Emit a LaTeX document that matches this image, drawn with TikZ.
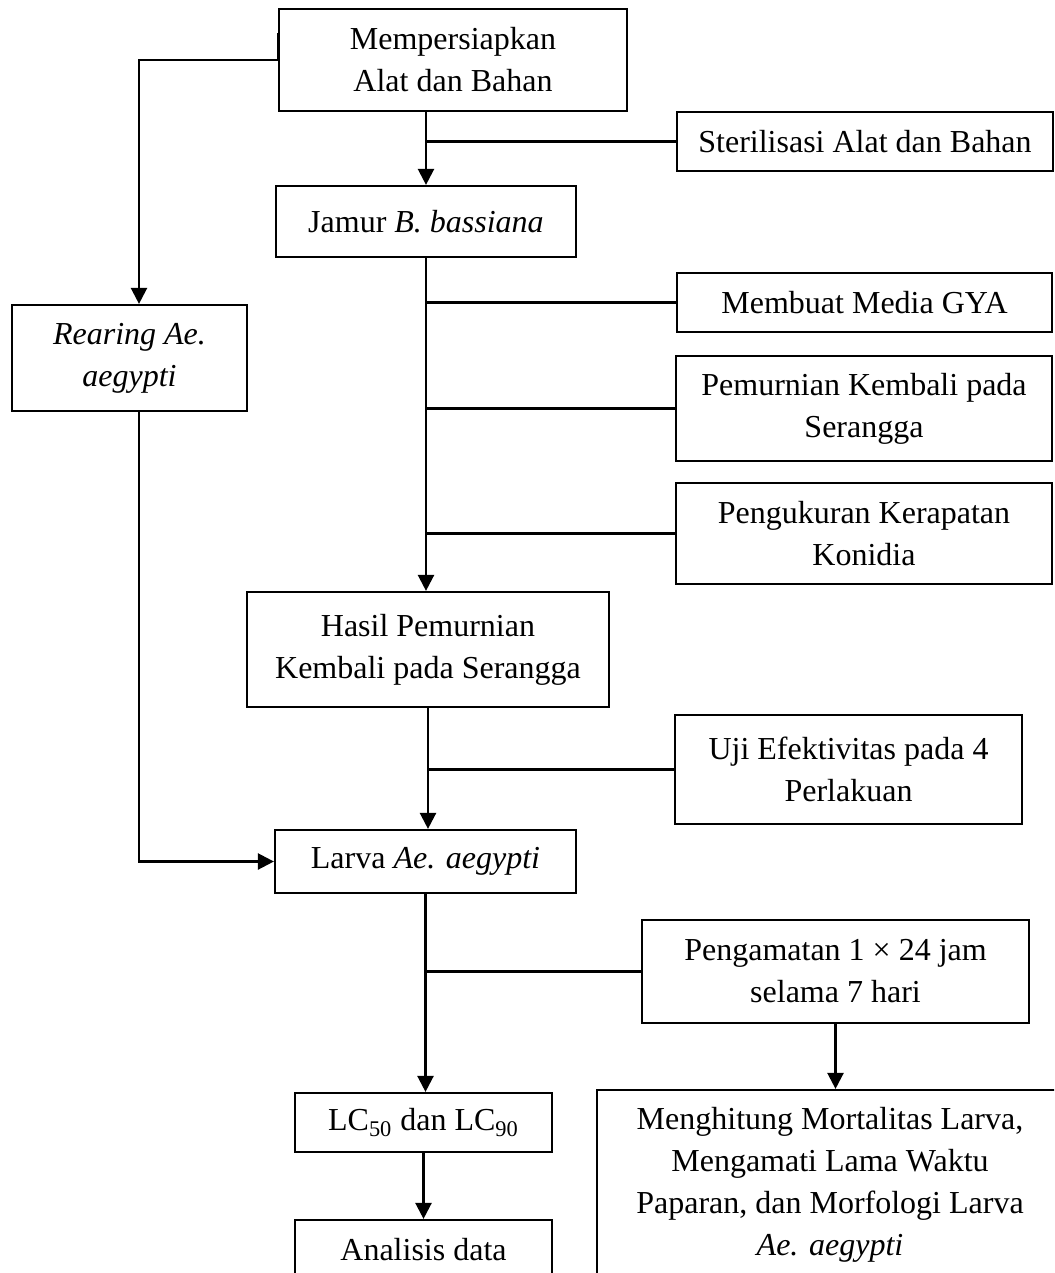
\documentclass[tikz,border=0pt]{standalone}
\usepackage{fontspec}
\setmainfont{Liberation Serif}
\usetikzlibrary{arrows.meta}
\tikzset{
	kotak/.style={draw, line width=1.1pt, align=center, inner sep=0pt,
	font=\fontsize{16}{21}\selectfont},
	panah/.style={line width=1.2pt, -{Triangle[length=8pt, width=8pt]}},
	garis/.style={line width=1.2pt}
}
\begin{document}
\begin{tikzpicture}[x=0.5pt, y=-0.5pt]
	\useasboundingbox (0,0) rectangle (1054,1273);
	\clip (0,0) rectangle (1054,1273);
	% Alur tengah
	\node[kotak, minimum width=174pt, minimum height=51pt] (siapkan) at (453, 60)
	{Mempersiapkan\\Alat dan Bahan};
	\node[kotak, minimum width=150pt, minimum height=35.5pt] (jamur) at (426, 221.5)
	{Jamur \textit{B. bassiana}};
	\node[kotak, minimum width=181pt, minimum height=57.5pt] (hasil) at (428, 649.5)
	{Hasil Pemurnian\\Kembali pada Serangga};
	\node[kotak, minimum width=150.5pt, minimum height=31.5pt] (larva) at (425.5, 861.5)
	{Larva \textit{Ae. aegypti}};
	\node[kotak, minimum width=128.5pt, minimum height=29.5pt] (lc) at (423.5, 1122.5)
	{LC\textsubscript{50} dan LC\textsubscript{90}};
	\node[kotak, minimum width=128.5pt, minimum height=30pt] (analisis) at (423.5, 1250)
	{Analisis data};
	% Kotak kiri
	\node[kotak, minimum width=117.5pt, minimum height=53pt] (rearing) at (129.5, 358)
	{\textit{Rearing Ae.}\\\textit{aegypti}};
	% Kotak kanan
	\node[kotak, minimum width=188pt, minimum height=29.5pt] (steril) at (865, 141.5)
	{Sterilisasi Alat dan Bahan};
	\node[kotak, minimum width=187.5pt, minimum height=29.5pt] (media) at (864.5, 302.5)
	{Membuat Media GYA};
	\node[kotak, minimum width=188pt, minimum height=52.5pt] (murni) at (864, 408.5)
	{Pemurnian Kembali pada\\Serangga};
	\node[kotak, minimum width=188pt, minimum height=50.5pt] (ukur) at (864, 533.5)
	{Pengukuran Kerapatan\\Konidia};
	\node[kotak, minimum width=173.5pt, minimum height=54.5pt] (uji) at (848.5, 769.5)
	{Uji Efektivitas pada 4\\Perlakuan};
	\node[kotak, minimum width=193.5pt, minimum height=51.5pt] (amati) at (835.5, 971.5)
	{Pengamatan 1 × 24 jam\\selama 7 hari};
	\node[kotak, minimum width=233pt, minimum height=95pt] (hitung) at (830, 1185)
	{Menghitung Mortalitas Larva,\\Mengamati Lama Waktu\\Paparan, dan Morfologi Larva\\\textit{Ae. aegypti}};
	% Panah utama
	\draw[panah] (jamur.north |- siapkan.south) -- (jamur.north);
	\draw[panah] (jamur.south) -- (jamur.south |- hasil.north);
	\draw[panah] (hasil.south) -- (hasil.south |- larva.north);
	\draw[panah] (larva.south) -- (larva.south |- lc.north);
	\draw[panah] (lc.south) -- (analisis.north);
	\draw[panah] (amati.south) -- (amati.south |- hitung.north);
	% Cabang ke kanan
	\draw[garis] (steril.west) -- (steril.west -| jamur.north);
	\draw[garis] (media.west) -- (media.west -| jamur.south);
	\draw[garis] (murni.west) -- (murni.west -| jamur.south);
	\draw[garis] (ukur.west) -- (ukur.west -| jamur.south);
	\draw[garis] (uji.west) -- (uji.west -| hasil.south);
	\draw[garis] (amati.west) -- (amati.west -| larva.south);
	% Jalur kiri
	\draw[panah] ([yshift=13.5pt]siapkan.west) -- (siapkan.west)
	-| ([xshift=4.75pt]rearing.north);
	\draw[panah] ([xshift=4.75pt]rearing.south) |- (larva.west);
\end{tikzpicture}
\end{document}
